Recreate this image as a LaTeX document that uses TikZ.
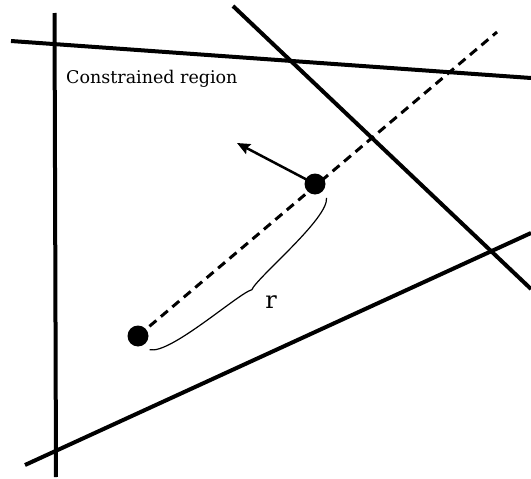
\documentclass[tikz,border=0pt]{standalone}
\usepackage{fontspec}
\setmainfont{DejaVu Serif}
\usetikzlibrary{arrows.meta}

\begin{document}
\begin{tikzpicture}[
   x=1pt, y=-1pt, font=\fontsize{17.5}{20}\selectfont,
   wall/.style = {line width=4pt, black},
   particle/.style = {circle, fill=black, inner sep=0pt, minimum size=21pt},
   trace/.style = {line width=3pt, dash pattern=on 9pt off 6pt},
   push/.style = {-{Stealth[length=13pt, width=11pt, inset=2pt]}, line width=2.5pt},
   span/.style = {line width=1.2pt}]
  \useasboundingbox (0,0) rectangle (531,479);
  \draw[wall] (54.5,13) -- (56,477);
  \draw[wall] (11,41) -- (531,78);
  \draw[wall] (233,6) -- (531,289);
  \draw[wall] (25,465) -- (531,233);
  \node[anchor=base west, inner sep=0pt] (title) at (66,83) {Constrained region};
  \node[particle] (origin) at (138,336) {};
  \node[particle] (trial) at (315,184) {};
  \coordinate (trend) at (497,32);
  \coordinate (heading) at (237,143);
  \draw[trace] (origin.center) -- (trend);
  \draw[push] (trial.center) -- (heading);
  \begin{scope}[shift={(origin.center)}, rotate=40.63]
    \draw[span] (0,18) .. controls (12,35) and (104,33) .. (116.5,39)
                       .. controls (129,33) and (221,35) .. (233,18);
  \end{scope}
  \node[font=\fontsize{24}{28}\selectfont] (rlabel) at (271,302) {r};
\end{tikzpicture}
\end{document}
